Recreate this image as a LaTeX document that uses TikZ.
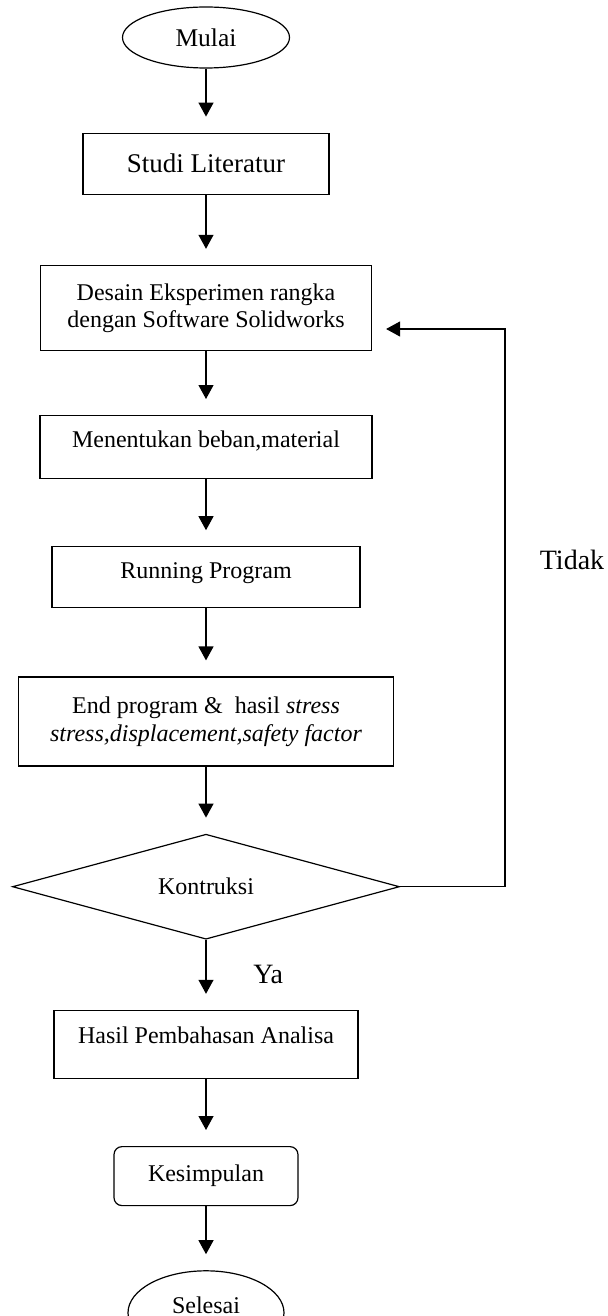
\documentclass[tikz,border=0pt]{standalone}
\usepackage{fontspec}
\setmainfont{Liberation Serif}
\usetikzlibrary{arrows.meta, positioning, shapes.geometric}

\begin{document}
\begin{tikzpicture}[
    x=0.5pt, y=-0.5pt,
    box/.style={draw, line width=0.6pt, inner sep=0pt, align=center, font=\fontsize{12}{14}\selectfont},
    term/.style={box, ellipse},
    arr/.style={-{Triangle[length=7pt, width=7.5pt]}, line width=0.6pt, shorten >=8pt},
    lbl/.style={font=\fontsize{14}{16}\selectfont}
  ]
    \useasboundingbox (0,0) rectangle (607,1316);
    \clip (0,0) rectangle (607,1316);

    \node[term, minimum width=83.5pt, minimum height=30.5pt, font=\fontsize{12.75}{15}\selectfont] (mulai) at (206,37.5) {Mulai};
    \node[box, minimum width=123pt, minimum height=30.5pt, font=\fontsize{13.5}{16}\selectfont, below=32pt of mulai] (studi) {Studi Literatur};
    \node[box, minimum width=165.5pt, minimum height=42.5pt, font=\fontsize{12}{13.5}\selectfont, below=35pt of studi] (desain) {Desain Eksperimen rangka\\dengan Software Solidworks};
    \node[box, minimum width=166pt, minimum height=31.5pt, text depth=7.5pt, below=32pt of desain] (beban) {Menentukan beban,material};
    \node[box, minimum width=154pt, minimum height=30.5pt, text depth=6.5pt, below=33.5pt of beban] (run) {Running Program};
    \node[box, minimum width=187.5pt, minimum height=44.5pt, below=34pt of run] (hasil) {End program \&~ hasil \textit{stress}\\\textit{stress,displacement,safety factor}};
    \node[box, diamond, shape aspect=3.7, minimum width=193.5pt, minimum height=52.5pt, below=33.5pt of hasil] (kon) {Kontruksi};
    \node[box, minimum width=152pt, minimum height=34pt, text depth=9pt, below=35pt of kon] (bahas) {Hasil Pembahasan Analisa};
    \node[box, rounded corners=4pt, minimum width=92pt, minimum height=29.5pt, below=33.5pt of bahas] (kes) {Kesimpulan};
    \node[term, minimum width=78pt, minimum height=42pt, text depth=8pt, below=32pt of kes] (selesai) {Selesai};

    \coordinate (back) at (505,329);
    \node[lbl] (tidak) at (572,560) {Tidak};

    \draw[arr] (mulai) -- (studi);
    \draw[arr] (studi) -- (desain);
    \draw[arr] (desain) -- (beban);
    \draw[arr] (beban) -- (run);
    \draw[arr] (run) -- (hasil);
    \draw[arr] (hasil) -- (kon);
    \draw[arr] (kon) -- node[lbl, right=20pt] (ya) {Ya} (bahas);
    \draw[arr] (bahas) -- (kes);
    \draw[arr] (kes) -- (selesai);
    \draw[arr, shorten >=7pt] (kon.east) -| (back) -- (back -| desain.east);
  \end{tikzpicture}
\end{document}
